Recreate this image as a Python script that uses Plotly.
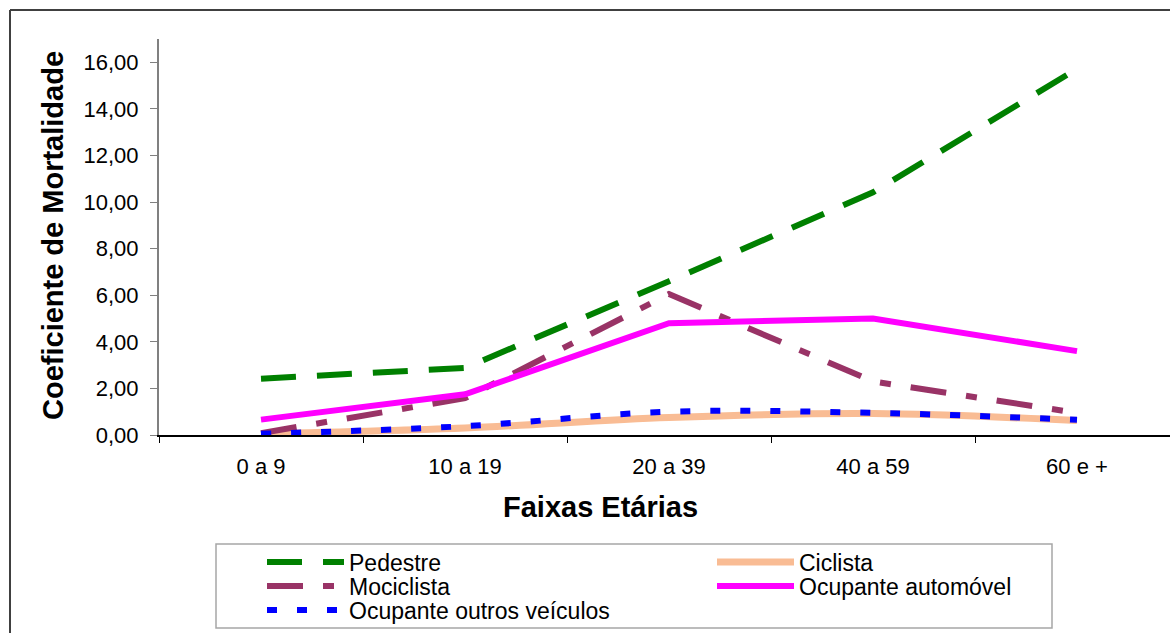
import plotly.graph_objects as go

# ---- data ----
categorias = ["0 a 9", "10 a 19", "20 a 39", "40 a 59", "60 e +"]
pedestre = [2.42, 2.88, 6.60, 10.42, 15.72]
ciclista = [0.05, 0.30, 0.75, 0.92, 0.62]
mociclista = [0.08, 1.58, 6.05, 2.30, 0.95]
automovel = [0.66, 1.75, 4.80, 5.00, 3.60]
outros = [0.05, 0.38, 1.00, 0.95, 0.65]
y_ticks = [0, 2, 4, 6, 8, 10, 12, 14, 16]

W, H = 1170, 633
FONT = "Liberation Sans, Arial, sans-serif"

# plot area in pixels
L, R, T, B = 159, 0, 39, 198

series = [
    dict(name="Pedestre", y=pedestre, color="#008000", dash="35px,21px", shape="linear", width=6, legend="legend"),
    dict(name="Ciclista", y=ciclista, color="#F9BC94", dash="solid", shape="spline", width=7, legend="legend2"),
    dict(name="Mociclista", y=mociclista, color="#993366", dash="36px,20px,11px,20px", shape="linear", width=6, legend="legend3"),
    dict(name="Ocupante automóvel", y=automovel, color="#FF00FF", dash="solid", shape="linear", width=6, legend="legend4"),
    dict(name="Ocupante outros veículos", y=outros, color="#0000FF", dash="10px,20px", shape="spline", width=6, legend="legend5"),
]

fig = go.Figure()
for s in series:
    fig.add_trace(go.Scatter(
        x=categorias, y=s["y"], name=s["name"], mode="lines",
        line=dict(color=s["color"], dash=s["dash"], shape=s["shape"], width=s["width"]),
        legend=s["legend"],
    ))

# legend positions (pixel -> container fraction)
def cx(px):
    return px / W

def cy(py):
    return 1 - py / H

leg_common = dict(xref="container", yref="container", xanchor="left", yanchor="middle",
                  bgcolor="rgba(0,0,0,0)", borderwidth=0, itemwidth=77,
                  font=dict(family=FONT, size=23, color="#000000"))
pos = {
    "legend": (262, 562),
    "legend2": (712, 562),
    "legend3": (262, 586),
    "legend4": (712, 586),
    "legend5": (262, 610),
}
legends = {k: dict(x=cx(v[0]), y=cy(v[1]), **leg_common) for k, v in pos.items()}

def px2paper_x(px):
    return (px - L) / (W - L - R)

def py2paper_y(py):
    return (H - B - py) / (H - B - T)

shapes = [
    # outer chart border (top and left edges visible)
    dict(type="line", xref="paper", yref="paper", x0=px2paper_x(10), x1=px2paper_x(1200),
         y0=py2paper_y(10), y1=py2paper_y(10), line=dict(color="#404040", width=2)),
    dict(type="line", xref="paper", yref="paper", x0=px2paper_x(10), x1=px2paper_x(10),
         y0=py2paper_y(10), y1=py2paper_y(660), line=dict(color="#404040", width=2)),
    # legend frame
    dict(type="rect", xref="paper", yref="paper", x0=px2paper_x(216), x1=px2paper_x(1052),
         y0=py2paper_y(544), y1=py2paper_y(628), line=dict(color="#A6A6A6", width=1.5),
         fillcolor="rgba(0,0,0,0)"),
]

annotations = [
    dict(text="<b>Faixas Etárias</b>", xref="paper", yref="paper",
         x=px2paper_x(600), y=py2paper_y(507), xanchor="center", yanchor="middle",
         showarrow=False, font=dict(family=FONT, size=29, color="#000000")),
    dict(text="<b>Coeficiente de Mortalidade</b>", xref="paper", yref="paper",
         x=px2paper_x(53), y=py2paper_y(236), xanchor="center", yanchor="middle",
         textangle=-90, showarrow=False, font=dict(family=FONT, size=29, color="#000000")),
]

fig.update_layout(
    width=W, height=H,
    margin=dict(l=L, r=R, t=T, b=B, pad=0, autoexpand=False),
    paper_bgcolor="white", plot_bgcolor="white",
    separators=",.",
    font=dict(family=FONT, color="#000000"),
    showlegend=True,
    shapes=shapes,
    annotations=annotations,
    **legends,
)

fig.update_xaxes(
    type="category", range=[-0.5, -0.5 + (W - L - R) / 204.0],
    showline=True, linecolor="#000000", linewidth=1.5,
    ticks="outside", tickson="boundaries", ticklen=6, tickcolor="#000000", tickwidth=1,
    showgrid=False, zeroline=False,
    tickfont=dict(family=FONT, size=22, color="#000000"),
    ticklabelstandoff=11,
)
fig.update_yaxes(
    range=[0, 17], tickvals=y_ticks, tickformat=".2f",
    showline=True, linecolor="#808080", linewidth=2,
    ticks="outside", ticklen=7, tickcolor="#808080", tickwidth=1,
    showgrid=False, zeroline=False,
    tickfont=dict(family=FONT, size=22, color="#000000"),
    ticklabelstandoff=7,
)

fig.write_html("out.html")
